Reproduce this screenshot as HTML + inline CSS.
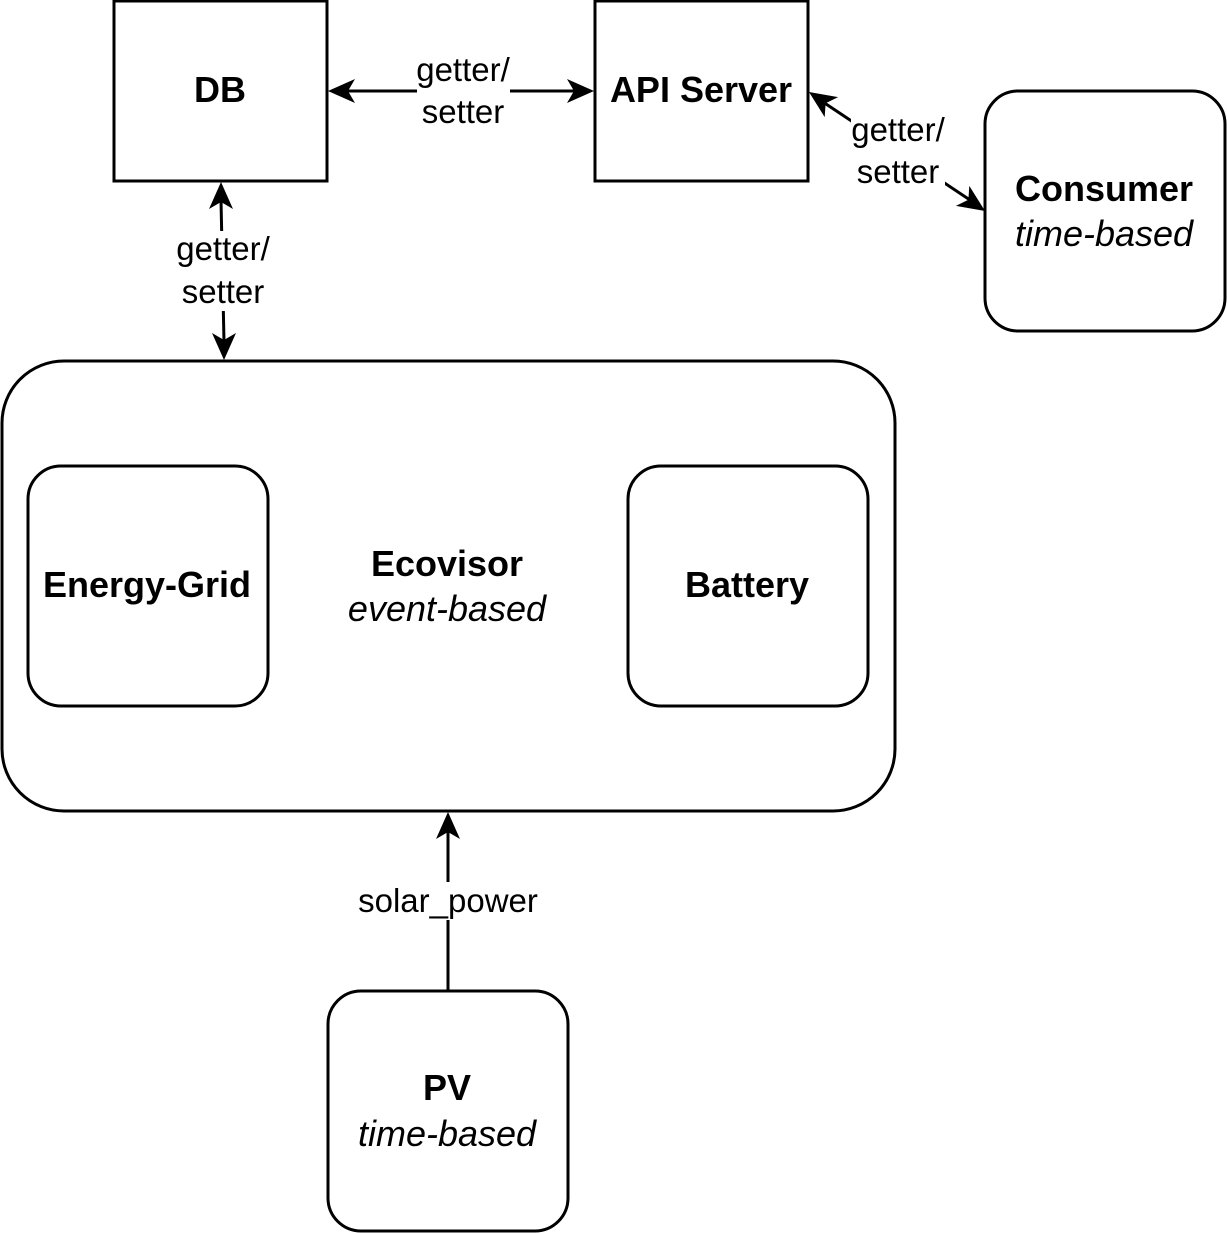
<!DOCTYPE html>
<html><head><meta charset="utf-8"><style>
html,body{margin:0;padding:0;background:#fff;}
svg{display:block;}
text{font-family:"Liberation Sans",Arial,sans-serif;fill:#000;}
.b{font-weight:bold;font-size:36px;}
.i{font-style:italic;font-size:36px;}
.l{font-size:33px;}
</style></head><body>
<svg width="1227" height="1233" viewBox="0 0 1227 1233" xmlns="http://www.w3.org/2000/svg">
<g fill="none" stroke="#000" stroke-width="3">
<rect x="114" y="1" width="213" height="180"/>
<rect x="595" y="1" width="213" height="180"/>
<rect x="985" y="91" width="240" height="240" rx="33"/>
<rect x="2" y="361" width="893" height="450" rx="62"/>
<rect x="28" y="466" width="240" height="240" rx="33"/>
<rect x="628" y="466" width="240" height="240" rx="33"/>
<rect x="328" y="991" width="240" height="240" rx="33"/>
<line x1="345" y1="91" x2="577" y2="91"/>
<line x1="221" y1="200" x2="224" y2="342"/>
<line x1="823" y1="102" x2="970" y2="200"/>
<line x1="448" y1="991" x2="448" y2="830"/>
</g>
<g fill="#000">
<polygon points="328,91 355,79 348,91 355,103"/>
<polygon points="594,91 567,79 574,91 567,103"/>
<polygon points="221,182 209,209 221,202 233,209"/>
<polygon points="224,360 212,333 224,340 236,333"/>
<polygon points="809,92 824.7,117.1 825.6,103.2 838.1,97.1"/>
<polygon points="985,211 969.3,185.9 968.4,199.8 955.9,205.9"/>
<polygon points="448,812 436,839 448,832 460,839"/>
</g>
<g fill="#fff">
<rect x="417" y="50" width="93" height="80"/>
<rect x="176" y="231" width="95" height="80"/>
<rect x="851" y="110" width="94" height="80"/>
<rect x="356" y="882" width="184" height="38"/>
</g>
<g text-anchor="middle">
<text class="b" x="220" y="102">DB</text>
<text class="b" x="701" y="102">API Server</text>
<text class="b" x="1104" y="201">Consumer</text>
<text class="i" x="1104" y="246">time-based</text>
<text class="b" x="447" y="576">Ecovisor</text>
<text class="i" x="447" y="621">event-based</text>
<text class="b" x="147" y="597">Energy-Grid</text>
<text class="b" x="747" y="597">Battery</text>
<text class="b" x="447" y="1100">PV</text>
<text class="i" x="447" y="1146">time-based</text>
<text class="l" x="463" y="81">getter/</text>
<text class="l" x="463" y="123">setter</text>
<text class="l" x="223" y="260">getter/</text>
<text class="l" x="223" y="303">setter</text>
<text class="l" x="898" y="141">getter/</text>
<text class="l" x="898" y="183">setter</text>
<text class="l" x="448" y="912">solar_power</text>
</g>
</svg>
</body></html>
